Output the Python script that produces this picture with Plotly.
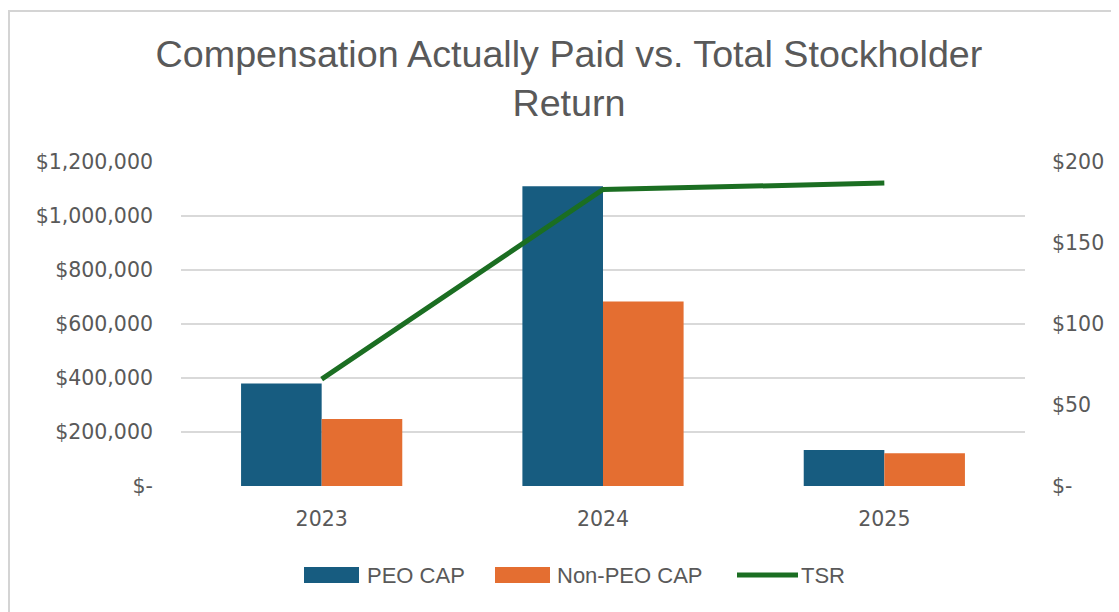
import plotly.graph_objects as go

# ---- data ----
years = ["2023", "2024", "2025"]
peo_cap = [380000, 1110000, 133000]
non_peo_cap = [248000, 683000, 121000]
tsr = [66, 183, 187]

left_ticks = [0, 200000, 400000, 600000, 800000, 1000000, 1200000]
left_labels = ["$-", "$200,000", "$400,000", "$600,000", "$800,000", "$1,000,000", "$1,200,000"]
right_ticks = [0, 50, 100, 150, 200]
right_labels = ["$-", "$50", "$100", "$150", "$200"]

series_names = ["PEO CAP", "Non-PEO CAP", "TSR"]
c_peo = "#175C80"
c_non = "#E46E31"
c_tsr = "#1B6E22"
txt = "#595959"
grid = "#D9D9D9"
FONT = "Liberation Sans, Arial, sans-serif"
TICKFONT = "DejaVu Sans, Verdana, sans-serif"

# page body has an 8px margin; work in screen pixels and convert
OFF = 8
SW, SH = 1119, 612
W, H = SW - OFF, SH - OFF
# plot area in screen pixels: x 181..1025, y 162..486
L, T = 181 - OFF, 162 - OFF
R, B = SW - 1025, SH - 486
pw, ph = W - L - R, H - T - B


def px(x):  # screen pixel -> paper x
    return (x - OFF - L) / pw


def py(y):  # screen pixel -> paper y
    return (H - B - (y - OFF)) / ph


fig = go.Figure()
fig.add_trace(go.Bar(x=years, y=peo_cap, name=series_names[0], marker_color=c_peo,
                     marker_line_width=0, showlegend=False))
fig.add_trace(go.Bar(x=years, y=non_peo_cap, name=series_names[1], marker_color=c_non,
                     marker_line_width=0, showlegend=False))
fig.add_trace(go.Scatter(x=years, y=tsr, name=series_names[2], mode="lines",
                         line=dict(color=c_tsr, width=5), yaxis="y2", showlegend=False))

shapes = []
annotations = []
# chart border
shapes.append(dict(type="rect", xref="paper", yref="paper",
                   x0=px(9), x1=px(SW + 40), y0=py(SH + 40), y1=py(11),
                   line=dict(color="#D4D4D4", width=2), fillcolor="rgba(0,0,0,0)", layer="below"))

# custom legend
leg_y = 575
items = [
    (series_names[0], c_peo, "bar", 304, 359, 6),
    (series_names[1], c_non, "bar", 495, 550, 5),
    (series_names[2], c_tsr, "line", 737, 798, 1),
]
for name, col, kind, x0, x1, gap in items:
    if kind == "bar":
        shapes.append(dict(type="rect", xref="paper", yref="paper",
                           x0=px(x0), x1=px(x1), y0=py(leg_y + 8), y1=py(leg_y - 8),
                           fillcolor=col, line=dict(width=0)))
    else:
        shapes.append(dict(type="line", xref="paper", yref="paper",
                           x0=px(x0), x1=px(x1), y0=py(leg_y), y1=py(leg_y),
                           line=dict(color=col, width=5)))
    annotations.append(dict(xref="paper", yref="paper", x=px(x1 + gap), y=py(leg_y),
                            xanchor="left", yanchor="middle", text=name, showarrow=False,
                            font=dict(family=FONT, size=22, color=txt)))

tickfont = dict(family=TICKFONT, size=20.5, color=txt)

fig.update_layout(
    width=W, height=H,
    margin=dict(l=L, r=R, t=T, b=B),
    paper_bgcolor="white", plot_bgcolor="white",
    barmode="group", bargap=0.427, bargroupgap=0,
    title=dict(text="Compensation Actually Paid vs. Total Stockholder<br>Return",
               x=(569 - OFF) / W, xanchor="center", xref="container",
               y=1 - 59 / H, yanchor="top", yref="container",
               font=dict(family=FONT, size=37.7, color=txt)),
    font=dict(family=FONT, size=20, color=txt),
    xaxis=dict(type="category", showgrid=False, showline=False, zeroline=False,
               ticks="", ticklabelstandoff=18, tickfont=tickfont),
    yaxis=dict(range=[0, 1200000], tickvals=left_ticks, ticktext=left_labels,
               showgrid=True, gridcolor=grid, gridwidth=2, zeroline=False,
               showline=False, ticks="", ticklabelstandoff=27,
               tickfont=tickfont),
    yaxis2=dict(range=[0, 200], tickvals=right_ticks, ticktext=right_labels,
                overlaying="y", side="right", showgrid=False, zeroline=False,
                showline=False, ticks="", ticklabelstandoff=26,
                tickfont=tickfont),
    shapes=shapes,
    annotations=annotations,
    showlegend=False,
)

fig.write_html("out.html")
